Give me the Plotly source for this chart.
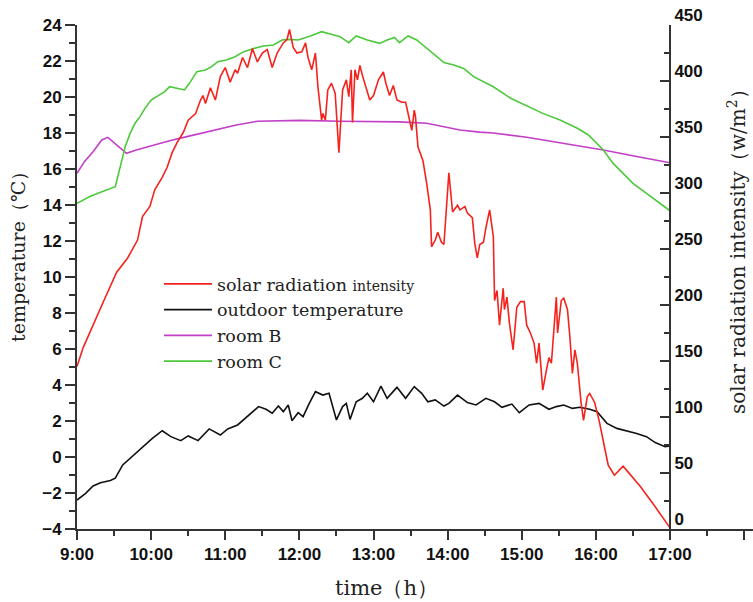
import plotly.graph_objects as go

# ---- data (minutes after 9:00) ----
solar_min = [0, 5, 21, 32, 41, 49, 53, 59, 63, 69, 73, 77, 81, 86, 90, 96, 100, 102, 104, 108,
             112, 116, 120, 124, 128, 130, 134, 138, 142, 146, 150, 154, 158, 162, 167, 170, 172,
             175, 178, 182, 185, 187, 190, 193, 195, 197, 198, 199, 201, 203, 206, 209, 212, 215,
             218, 220, 222, 223, 225, 227, 229, 231, 235, 237, 240, 244, 248, 250, 253, 256, 259,
             263, 266, 268, 271, 273, 274, 276, 280, 283, 286, 287, 290, 292, 295, 297, 299, 301,
             304, 308, 310, 314, 316, 320, 322, 324, 326, 329, 331, 334, 337, 338, 340, 342, 345,
             346, 348, 350, 353, 356, 359, 362, 364, 367, 370, 372, 374, 376, 377, 380, 382, 384,
             386, 388, 389, 392, 394, 397, 399, 401, 403, 405, 408, 410, 413, 415, 419, 423, 427,
             430, 435, 442, 446, 456, 466, 474, 480]
solar_wm2 = [145, 162, 202, 229, 242, 258, 279, 288, 303, 314, 323, 336, 345, 354, 365, 371, 383,
             387, 380, 394, 383, 404, 412, 399, 410, 407, 421, 412, 429, 417, 425, 428, 412, 425,
             434, 437, 446, 430, 425, 426, 434, 421, 410, 425, 395, 374, 365, 371, 365, 392, 398,
             389, 336, 392, 401, 386, 410, 363, 410, 401, 414, 405, 390, 383, 387, 401, 408, 398,
             387, 396, 383, 381, 381, 372, 356, 374, 368, 341, 329, 309, 285, 252, 258, 265, 256,
             254, 291, 318, 283, 289, 285, 288, 282, 278, 255, 242, 254, 256, 269, 285, 261, 204,
             213, 182, 215, 196, 207, 184, 160, 198, 203, 203, 182, 175, 166, 148, 166, 133, 124,
             142, 153, 148, 175, 207, 175, 204, 206, 196, 171, 139, 160, 148, 113, 97, 118, 121,
             113, 95, 73, 57, 48, 56, 51, 38, 23, 10, 1]

outdoor_min = [0, 7, 13, 19, 27, 31, 37, 45, 53, 61, 69, 76, 84, 90, 98, 107, 116, 122, 130, 138,
               147, 153, 158, 163, 167, 171, 174, 179, 183, 188, 193, 199, 204, 210, 215, 218, 221,
               226, 231, 235, 240, 246, 251, 259, 266, 273, 279, 284, 290, 297, 301, 308, 316, 323,
               331, 338, 344, 352, 358, 366, 374, 382, 388, 394, 401, 407, 415, 421, 429, 437, 445,
               453, 461, 468, 476, 480]
outdoor_temp = [-2.39, -2.02, -1.61, -1.43, -1.31, -1.18, -0.44, 0.06, 0.54, 1.04, 1.46, 1.13,
                0.91, 1.17, 0.91, 1.56, 1.22, 1.56, 1.78, 2.24, 2.80, 2.65, 2.43, 2.83, 2.52, 2.89,
                2.02, 2.46, 2.24, 2.98, 3.63, 3.44, 3.54, 2.06, 2.80, 2.98, 2.09, 3.07, 3.26, 3.54,
                3.07, 3.94, 3.26, 3.87, 3.26, 3.91, 3.54, 3.07, 3.17, 2.83, 2.98, 3.44, 3.02, 2.89,
                3.26, 3.07, 2.76, 2.94, 2.46, 2.89, 2.98, 2.65, 2.80, 2.89, 2.70, 2.76, 2.65, 2.52,
                1.87, 1.59, 1.46, 1.31, 1.13, 0.80, 0.57, 0.61]

room_b_min = [0, 6, 13, 20, 25, 29, 35, 40, 48, 62, 75, 89, 102, 116, 129, 146, 162, 180, 213,
              261, 283, 299, 310, 326, 337, 364, 391, 426, 453, 480]
room_b_temp = [15.76, 16.41, 16.96, 17.61, 17.76, 17.52, 17.15, 16.87, 17.06, 17.33, 17.57, 17.80,
               18.02, 18.26, 18.44, 18.65, 18.68, 18.70, 18.65, 18.62, 18.54, 18.30, 18.17, 18.05,
               18.00, 17.76, 17.46, 17.06, 16.69, 16.35]

room_c_min = [0, 5, 10, 17, 24, 31, 33, 36, 39, 43, 47, 51, 55, 60, 66, 71, 75, 81, 87, 91, 97,
              104, 109, 114, 121, 128, 135, 143, 151, 159, 166, 172, 179, 189, 198, 205, 213, 220,
              226, 235, 245, 251, 257, 261, 268, 275, 280, 288, 297, 305, 313, 321, 337, 351, 364,
              377, 391, 405, 414, 421, 426, 434, 442, 450, 461, 472, 480]
room_c_temp = [14.09, 14.28, 14.46, 14.65, 14.83, 15.02, 15.57, 16.50, 17.24, 17.98, 18.54, 18.91,
               19.37, 19.83, 20.11, 20.30, 20.57, 20.48, 20.39, 20.76, 21.41, 21.50, 21.69, 21.96,
               22.06, 22.24, 22.52, 22.70, 22.83, 22.89, 23.17, 23.20, 23.17, 23.39, 23.63, 23.50,
               23.35, 23.02, 23.39, 23.17, 22.98, 23.17, 23.31, 23.02, 23.39, 23.17, 22.89, 22.43,
               21.91, 21.78, 21.59, 21.13, 20.57, 19.93, 19.50, 19.09, 18.72, 18.26, 17.89, 17.43,
               17.06, 16.31, 15.76, 15.20, 14.65, 14.09, 13.68]

hour_ticks = [9, 10, 11, 12, 13, 14, 15, 16, 17, 18]
hour_labels = ["9:00", "10:00", "11:00", "12:00", "13:00", "14:00", "15:00", "16:00", "17:00", " "]

x_title = "time（h）"
y_title = "temperature（℃）"
y2_title = "solar radiation intensity（w/m<sup>2</sup>）"


def to_hours(minutes):
    return [9 + m / 60 for m in minutes]


TICK_FONT = dict(family="Liberation Sans", size=17, color="#111", weight="bold")
TEXT_FONT = "DejaVu Serif"
AXIS_COLOR = "#333"

fig = go.Figure()

fig.add_trace(go.Scatter(
    x=to_hours(solar_min), y=solar_wm2, yaxis="y2", mode="lines",
    name="solar radiation <span style='font-size:14px'>intensity</span>",
    line=dict(color="#f5231d", width=1.6),
))
fig.add_trace(go.Scatter(
    x=to_hours(outdoor_min), y=outdoor_temp, mode="lines",
    name="outdoor temperature", line=dict(color="#111111", width=1.6),
))
fig.add_trace(go.Scatter(
    x=to_hours(room_b_min), y=room_b_temp, mode="lines",
    name="room B", line=dict(color="#c23fc8", width=1.6),
))
fig.add_trace(go.Scatter(
    x=to_hours(room_c_min), y=room_c_temp, mode="lines",
    name="room C", line=dict(color="#4cc93a", width=1.6),
))

plot_w = 753 - 77
plot_h = 504
fig.update_layout(
    width=753, height=602,
    margin=dict(l=77, r=0, t=25, b=73),
    paper_bgcolor="white", plot_bgcolor="white",
    showlegend=True,
    legend=dict(
        x=(159 - 77) / plot_w, y=1 - (266 - 25) / plot_h, xanchor="left", yanchor="top",
        bgcolor="rgba(0,0,0,0)", borderwidth=0,
        font=dict(family=TEXT_FONT, size=17.5, color="#222"),
        itemwidth=48, tracegroupgap=0,
    ),
    xaxis=dict(
        range=[9, 9 + plot_w / 74.125],
        tickvals=hour_ticks, ticktext=hour_labels,
        ticks="outside", ticklen=9, tickwidth=1.5, tickcolor=AXIS_COLOR,
        minor=dict(dtick=0.5, tick0=9, ticks="outside", ticklen=5, tickwidth=1.5,
                   tickcolor=AXIS_COLOR),
        showline=True, linecolor=AXIS_COLOR, linewidth=2,
        showgrid=False, zeroline=False,
        tickfont=TICK_FONT,
    ),
    yaxis=dict(
        range=[-4, 24], dtick=2, tick0=0,
        ticks="outside", ticklen=10, tickwidth=1.5, tickcolor=AXIS_COLOR,
        minor=dict(dtick=1, ticks="outside", ticklen=6, tickwidth=1.5, tickcolor=AXIS_COLOR),
        showline=True, linecolor=AXIS_COLOR, linewidth=2,
        showgrid=False, zeroline=False,
        tickfont=TICK_FONT,
    ),
    yaxis2=dict(
        range=[0, 450], dtick=50, tick0=0,
        overlaying="y", side="right", anchor="free", position=(670 - 77) / plot_w,
        ticks="inside", ticklen=9, tickwidth=1.5, tickcolor=AXIS_COLOR,
        minor=dict(dtick=25, ticks="inside", ticklen=5, tickwidth=1.5, tickcolor=AXIS_COLOR),
        showline=True, linecolor=AXIS_COLOR, linewidth=2,
        showgrid=False, zeroline=False,
        tickfont=TICK_FONT, ticklabelshift=-10,
    ),
)

# axis titles
title_font = dict(family=TEXT_FONT, color="#222")
fig.add_annotation(text=x_title, xref="paper", yref="paper",
                   x=(386 - 77) / plot_w, y=-(588 - 529) / plot_h,
                   xanchor="center", yanchor="middle", showarrow=False,
                   font=dict(size=21, **title_font))
fig.add_annotation(text=y_title, xref="paper", yref="paper", textangle=-90,
                   x=(18 - 77) / plot_w, y=(529 - 252) / plot_h,
                   xanchor="center", yanchor="middle", showarrow=False,
                   font=dict(size=19, **title_font))
fig.add_annotation(text=y2_title, xref="paper", yref="paper", textangle=-90,
                   x=(737 - 77) / plot_w, y=(529 - 247) / plot_h,
                   xanchor="center", yanchor="middle", showarrow=False,
                   font=dict(size=20, **title_font))

fig.write_html("out.html")
